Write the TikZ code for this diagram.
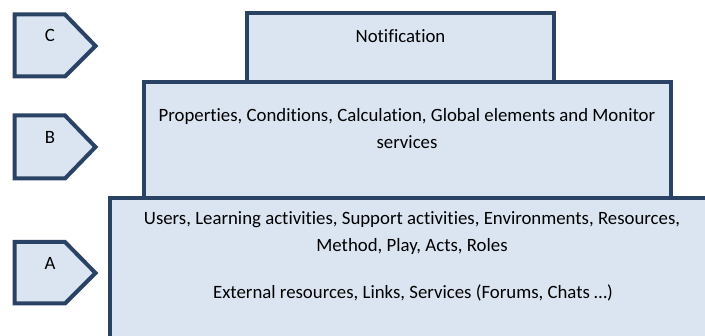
\documentclass[tikz,border=0pt]{standalone}
\usepackage{fontspec}
\setmainfont{Carlito}[Ligatures=NoCommon]
\definecolor{edge}{RGB}{42,67,101}
\definecolor{fillc}{RGB}{219,229,241}
\begin{document}
\begin{tikzpicture}[x=1pt,y=-1pt,
  shapebox/.style={draw=edge,fill=fillc,line width=4pt,line join=miter},
  txt/.style={font=\fontsize{18.8}{27}\selectfont,align=center,inner sep=0pt}]
\useasboundingbox (0,0) rectangle (705,336);
\clip (0,0) rectangle (705,336);
% pentagons
\draw[shapebox] (14.5,14.5) -- (65,14.5) -- (95.5,46) -- (65,76.5) -- (14.5,76.5) -- cycle;
\draw[shapebox] (14.5,115.5) -- (65,115.5) -- (95.5,147) -- (65,178.5) -- (14.5,178.5) -- cycle;
\draw[shapebox] (14.5,242) -- (65,242) -- (95.5,273) -- (65,303.5) -- (14.5,303.5) -- cycle;
\node[txt] (lc) at (50,35) {C};
\node[txt] (lb) at (50,137) {B};
\node[txt] (la) at (50,263) {A};
% boxes
\draw[shapebox] (247,13.5) rectangle (554,82.5);
\draw[shapebox] (143.5,82.5) rectangle (671,198);
\draw[shapebox] (110,198) rectangle (730,350);
\node[txt] (tn) at (400.5,36) {Notification};
\node[txt] (tb) at (407,128.5) {Properties, Conditions, Calculation, Global elements and Monitor\\services};
\node[txt] (ta) at (412,233.5) {Users, Learning activities, Support activities, Environments, Resources,\\Method, Play, Acts, Roles};
\node[txt] (ta2) at (413,293) {External resources, Links, Services (Forums, Chats \dots)};
\end{tikzpicture}
\end{document}
